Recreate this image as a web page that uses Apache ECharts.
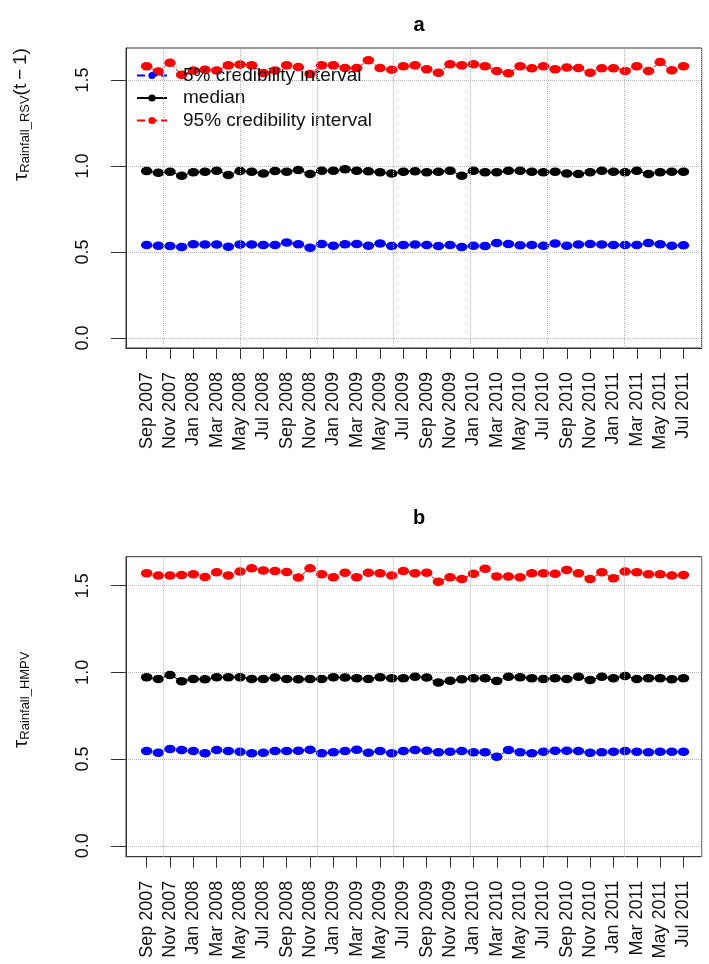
<!DOCTYPE html>
<html>
<head>
<meta charset="utf-8">
<script src="https://cdn.jsdelivr.net/npm/echarts@6/dist/echarts.min.js"></script>
<style>
  html, body { margin: 0; padding: 0; background: #fff; }
  #chart { width: 709px; height: 964px; }
</style>
</head>
<body>
<div id="chart"></div>
<script>
// month labels (x categories)
var months = [
  'Sep 2007','Oct 2007','Nov 2007','Dec 2007',
  'Jan 2008','Feb 2008','Mar 2008','Apr 2008','May 2008','Jun 2008','Jul 2008','Aug 2008','Sep 2008','Oct 2008','Nov 2008','Dec 2008',
  'Jan 2009','Feb 2009','Mar 2009','Apr 2009','May 2009','Jun 2009','Jul 2009','Aug 2009','Sep 2009','Oct 2009','Nov 2009','Dec 2009',
  'Jan 2010','Feb 2010','Mar 2010','Apr 2010','May 2010','Jun 2010','Jul 2010','Aug 2010','Sep 2010','Oct 2010','Nov 2010','Dec 2010',
  'Jan 2011','Feb 2011','Mar 2011','Apr 2011','May 2011','Jun 2011','Jul 2011'
];
var yTicks = [0, 0.5, 1.0, 1.5];
// vertical grid lines (x in month index units)
var gridX = [1.42, 8.0, 14.58, 21.17, 27.75, 34.33, 40.92, 47.5];

// panel a: tau Rainfall_RSV(t-1)
var lowerA = [0.541,0.537,0.535,0.529,0.545,0.543,0.543,0.531,0.543,0.543,0.541,0.541,0.556,0.545,0.525,0.547,0.537,0.545,0.547,0.537,0.550,0.535,0.541,0.543,
  0.541,0.535,0.541,0.529,0.537,0.535,0.552,0.547,0.539,0.541,0.537,0.550,0.537,0.543,0.547,0.543,0.541,0.541,0.541,0.552,0.545,0.537,0.539];
var medianA = [0.971,0.961,0.967,0.944,0.963,0.967,0.973,0.948,0.971,0.967,0.957,0.971,0.967,0.977,0.953,0.973,0.973,0.981,0.973,0.969,0.963,0.957,0.967,0.969,
  0.963,0.967,0.973,0.944,0.973,0.963,0.963,0.973,0.973,0.967,0.963,0.967,0.957,0.953,0.963,0.973,0.967,0.963,0.973,0.953,0.963,0.967,0.967];
var upperA = [1.58,1.55,1.60,1.53,1.555,1.56,1.555,1.585,1.59,1.585,1.54,1.555,1.585,1.575,1.535,1.585,1.585,1.57,1.57,1.615,1.57,1.56,
  1.58,1.585,1.562,1.542,1.591,1.585,1.591,1.58,1.552,1.539,1.58,1.568,1.58,1.562,1.572,1.57,1.542,1.568,1.568,1.552,1.58,1.552,1.604,1.556,1.58];

// panel b: tau Rainfall_HMPV
var lowerB = [0.546,0.537,0.558,0.552,0.546,0.533,0.552,0.546,0.542,0.533,0.537,0.546,0.546,0.548,0.554,0.533,0.539,0.546,0.554,0.537,0.546,0.533,0.546,0.552,
  0.548,0.539,0.542,0.546,0.539,0.539,0.514,0.552,0.539,0.533,0.542,0.548,0.548,0.546,0.537,0.539,0.542,0.546,0.542,0.539,0.542,0.542,0.542];
var medianB = [0.972,0.962,0.985,0.949,0.962,0.960,0.972,0.972,0.972,0.962,0.962,0.970,0.962,0.960,0.962,0.962,0.972,0.970,0.966,0.962,0.972,0.966,0.966,0.975,
  0.970,0.941,0.952,0.960,0.966,0.966,0.950,0.975,0.972,0.966,0.962,0.966,0.962,0.975,0.956,0.975,0.966,0.979,0.962,0.966,0.966,0.960,0.966];
var upperB = [1.572,1.558,1.558,1.562,1.566,1.550,1.577,1.558,1.581,1.601,1.587,1.585,1.579,1.547,1.601,1.566,1.549,1.575,1.549,1.575,1.572,1.558,
  1.585,1.572,1.575,1.523,1.549,1.539,1.568,1.597,1.553,1.553,1.549,1.572,1.572,1.568,1.591,1.572,1.539,1.577,1.543,1.581,1.577,1.566,1.566,1.558,1.562];

var names = ['5% credibility interval', 'median', '95% credibility interval'];
var FONT = 'Liberation Sans, Arial, sans-serif';
var xTickVals = months.map(function (m, i) { return i; }).filter(function (i) { return i % 2 === 0; });

function pts(arr) {
  return arr.map(function (v, i) { return [i, v]; });
}

function xAxis(idx) {
  return {
    type: 'value', gridIndex: idx, min: -1.77, max: 47.56,
    axisLine: { show: true, onZero: false, lineStyle: { color: '#333' } },
    axisTick: { show: true, length: 11, customValues: xTickVals, lineStyle: { color: '#333' } },
    axisLabel: {
      customValues: xTickVals, rotate: 90, margin: 24, fontSize: 18, color: '#111', fontFamily: FONT,
      formatter: function (v) { return months[Math.round(v)]; }
    },
    splitLine: { show: false }
  };
}
function yAxis(idx, mn, mx) {
  return {
    type: 'value', gridIndex: idx, min: mn, max: mx,
    axisLine: { show: true, onZero: false, lineStyle: { color: '#333' } },
    axisTick: { show: true, length: 15, customValues: yTicks, lineStyle: { color: '#333' } },
    axisLabel: {
      customValues: yTicks, rotate: 90, margin: 34, fontSize: 18, color: '#111', fontFamily: FONT,
      formatter: function (v) { return v.toFixed(1); }
    },
    splitLine: { show: true, lineStyle: { type: 'dotted', color: '#b5b5b5', width: 1 } }
  };
}

var sym = [11.5, 8.5];
function makeSeries(idx, lo, med, up) {
  var vgrid = {
    silent: true, symbol: ['none', 'none'], label: { show: false },
    lineStyle: { type: 'dotted', color: '#b5b5b5', width: 1 },
    data: gridX.map(function (v) { return { xAxis: v }; })
  };
  return [
    { name: names[0], type: 'line', xAxisIndex: idx, yAxisIndex: idx, data: pts(lo),
      symbol: 'circle', symbolSize: sym, itemStyle: { color: '#0000ff' },
      lineStyle: { color: '#0000ff', width: 1, type: 'dashed' }, markLine: vgrid },
    { name: names[1], type: 'line', xAxisIndex: idx, yAxisIndex: idx, data: pts(med),
      symbol: 'circle', symbolSize: sym, itemStyle: { color: '#000' },
      lineStyle: { color: '#000', width: 1 } },
    { name: names[2], type: 'line', xAxisIndex: idx, yAxisIndex: idx, data: pts(up),
      symbol: 'circle', symbolSize: sym, itemStyle: { color: '#ff0000' },
      lineStyle: { color: '#ff0000', width: 1, type: 'dashed' } }
  ];
}

var chart = echarts.init(document.getElementById('chart'));
var option = {
  animation: false,
  backgroundColor: '#fff',
  title: [
    { text: 'a', left: 414, top: 10, textAlign: 'center', textStyle: { fontSize: 20, fontWeight: 'bold', fontFamily: FONT, color: '#000' } },
    { text: 'b', left: 414, top: 503, textAlign: 'center', textStyle: { fontSize: 20, fontWeight: 'bold', fontFamily: FONT, color: '#000' } }
  ],
  legend: {
    orient: 'vertical', left: 131, top: 61, itemWidth: 30, itemHeight: 9, itemGap: 3.5,
    data: names,
    textStyle: { fontSize: 19, lineHeight: 14, color: '#111', fontFamily: FONT, padding: [0, 0, 0, 11] }
  },
  grid: [
    { left: 126, top: 48, right: 7.3, height: 300, show: true, borderColor: '#333', borderWidth: 1, backgroundColor: 'transparent' },
    { left: 126, top: 556.7, right: 7.3, height: 300, show: true, borderColor: '#333', borderWidth: 1, backgroundColor: 'transparent' }
  ],
  xAxis: [xAxis(0), xAxis(1)],
  yAxis: [yAxis(0, -0.058, 1.686), yAxis(1, -0.063, 1.667)],
  graphic: [
    { type: 'text', x: 21, y: 181, rotation: Math.PI / 2,
      style: { text: '{t|τ}{s|Rainfall_RSV}{p|(t\u2009\u2212\u20091)}', align: 'left', verticalAlign: 'middle', fill: '#111',
        rich: { t: { fontSize: 21, fontFamily: FONT, verticalAlign: 'middle' },
                s: { fontSize: 13, fontFamily: FONT, verticalAlign: 'bottom' },
                p: { fontSize: 19, fontFamily: FONT, verticalAlign: 'middle' } } } },
    { type: 'text', x: 21, y: 748, rotation: Math.PI / 2,
      style: { text: '{t|τ}{s|Rainfall_HMPV}', align: 'left', verticalAlign: 'middle', fill: '#111',
        rich: { t: { fontSize: 21, fontFamily: FONT, verticalAlign: 'middle' },
                s: { fontSize: 13, fontFamily: FONT, verticalAlign: 'bottom' } } } }
  ],
  series: makeSeries(0, lowerA, medianA, upperA).concat(makeSeries(1, lowerB, medianB, upperB))
};
chart.setOption(option);
</script>
</body>
</html>
